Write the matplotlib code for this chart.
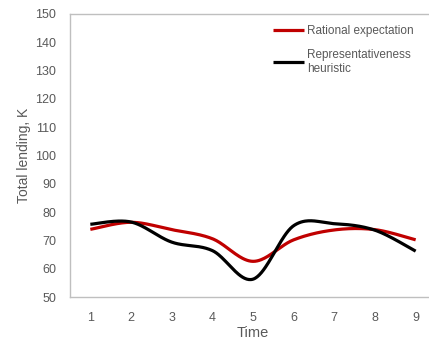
import numpy as np
from matplotlib import pyplot as plt

# values
time = [1, 2, 3, 4, 5, 6, 7, 8, 9]
rational = [73.9, 76.4, 73.8, 70.6, 62.6, 70.2, 73.7, 73.8, 70.2]
heuristic = [75.7, 76.5, 69.4, 66.4, 56.3, 75.2, 75.9, 73.6, 66.2]
y_ticks = list(range(50, 151, 10))


def smooth(xs, ys, n=40):
    # excel-like smoothed line (bezier through the points)
    xs = np.asarray(xs, float)
    ys = np.asarray(ys, float)
    px = np.concatenate([[xs[0]], xs, [xs[-1]]])
    py = np.concatenate([[ys[0]], ys, [ys[-1]]])
    out_x, out_y = [], []
    t = np.linspace(0, 1, n)
    for i in range(1, len(px) - 2):
        p0 = np.array([px[i], py[i]])
        p3 = np.array([px[i + 1], py[i + 1]])
        c1 = p0 + (np.array([px[i + 1], py[i + 1]]) - np.array([px[i - 1], py[i - 1]])) / 6
        c2 = p3 - (np.array([px[i + 2], py[i + 2]]) - np.array([px[i], py[i]])) / 6
        pts = ((1 - t)[:, None] ** 3 * p0 + 3 * ((1 - t) ** 2 * t)[:, None] * c1
               + 3 * ((1 - t) * t ** 2)[:, None] * c2 + (t ** 3)[:, None] * p3)
        out_x.extend(pts[:, 0])
        out_y.extend(pts[:, 1])
    return out_x, out_y


plt.rcParams['font.family'] = ['Liberation Sans', 'DejaVu Sans']
txt_col = '#595959'

fig = plt.figure(figsize=(4.29, 3.41), dpi=100)
ax = fig.add_axes([70 / 429, 1 - 297 / 341, 366 / 429, 283 / 341])

sx, sy = smooth(time, rational)
ax.plot(sx, sy, color='#C00000', lw=2.3, label='Rational expectation', solid_capstyle='butt')
sx, sy = smooth(time, heuristic)
ax.plot(sx, sy, color='black', lw=2.3, label='Representativeness\nheuristic', solid_capstyle='butt')

ax.set_xlim(0.5, 9.5)
ax.set_ylim(50, 150)
ax.set_xticks(time)
ax.set_yticks(y_ticks)
ax.tick_params(length=0, labelsize=9, colors=txt_col, pad=11)
ax.tick_params(axis='y', pad=10)

for s in ['left', 'bottom', 'top']:
    ax.spines[s].set_color('#bfbfbf')
    ax.spines[s].set_linewidth(1)
ax.spines['right'].set_visible(False)

ax.set_xlabel('Time', fontsize=10.5, color=txt_col, labelpad=1)
ax.set_ylabel('Total lending, K', fontsize=10, color=txt_col, labelpad=3)

leg = ax.legend(loc='upper left', bbox_to_anchor=(196 / 366, 0.985), frameon=False,
                fontsize=8.5, handlelength=2.6, handletextpad=0.3, labelspacing=1.0,
                borderaxespad=0.2)
for t in leg.get_texts():
    t.set_color(txt_col)

fig.savefig('out.png', dpi=100)
